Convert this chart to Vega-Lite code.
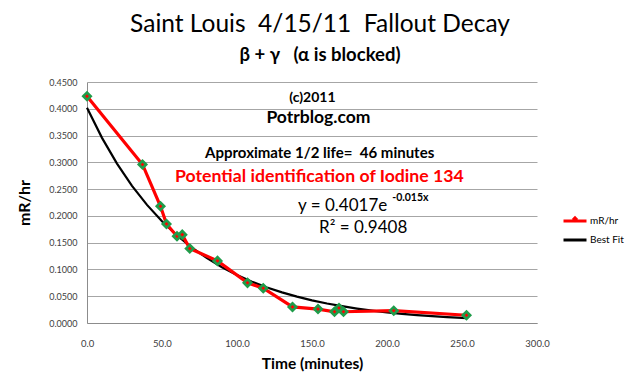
{
  "$schema": "https://vega.github.io/schema/vega-lite/v6.json",
  "width": 450,
  "height": 241,
  "autosize": {"type": "none"},
  "padding": {"left": 87, "top": 82, "right": 103, "bottom": 68},
  "background": "white",
  "config": {
    "view": {"stroke": null},
    "font": "Lato"
  },
  "title": {
    "text": "Saint Louis \u00a04/15/11 \u00a0Fallout Decay",
    "subtitle": "β + γ \u00a0\u00a0(α is blocked)",
    "anchor": "middle",
    "dx": 8,
    "font": "Lato",
    "fontSize": 24.5,
    "fontWeight": "normal",
    "color": "black",
    "subtitleFont": "Lato",
    "subtitleFontSize": 18.5,
    "subtitleFontWeight": "bold",
    "subtitleColor": "black",
    "subtitlePadding": 8,
    "offset": 13
  },
  "resolve": {"axis": {"x": "independent", "y": "independent"}},
  "layer": [
    {
      "data": {
        "values": [
          {"series": "mR/hr", "time": 0, "rate": 0.4235},
          {"series": "mR/hr", "time": 37, "rate": 0.296},
          {"series": "mR/hr", "time": 49, "rate": 0.218},
          {"series": "mR/hr", "time": 53, "rate": 0.185},
          {"series": "mR/hr", "time": 60, "rate": 0.162},
          {"series": "mR/hr", "time": 63.5, "rate": 0.165},
          {"series": "mR/hr", "time": 68.5, "rate": 0.139},
          {"series": "mR/hr", "time": 87, "rate": 0.116},
          {"series": "mR/hr", "time": 107, "rate": 0.075},
          {"series": "mR/hr", "time": 117.5, "rate": 0.065},
          {"series": "mR/hr", "time": 137, "rate": 0.030},
          {"series": "mR/hr", "time": 154, "rate": 0.026},
          {"series": "mR/hr", "time": 165, "rate": 0.021},
          {"series": "mR/hr", "time": 168, "rate": 0.028},
          {"series": "mR/hr", "time": 171, "rate": 0.021},
          {"series": "mR/hr", "time": 204.5, "rate": 0.023},
          {"series": "mR/hr", "time": 253, "rate": 0.0145},
          {"series": "Best Fit", "time": 0, "rate": 0.4017},
          {"series": "Best Fit", "time": 10, "rate": 0.3457},
          {"series": "Best Fit", "time": 20, "rate": 0.2976},
          {"series": "Best Fit", "time": 30, "rate": 0.2561},
          {"series": "Best Fit", "time": 40, "rate": 0.2205},
          {"series": "Best Fit", "time": 50, "rate": 0.1898},
          {"series": "Best Fit", "time": 60, "rate": 0.1633},
          {"series": "Best Fit", "time": 70, "rate": 0.1406},
          {"series": "Best Fit", "time": 80, "rate": 0.1210},
          {"series": "Best Fit", "time": 90, "rate": 0.1041},
          {"series": "Best Fit", "time": 100, "rate": 0.0896},
          {"series": "Best Fit", "time": 110, "rate": 0.0771},
          {"series": "Best Fit", "time": 120, "rate": 0.0664},
          {"series": "Best Fit", "time": 130, "rate": 0.0572},
          {"series": "Best Fit", "time": 140, "rate": 0.0492},
          {"series": "Best Fit", "time": 150, "rate": 0.0423},
          {"series": "Best Fit", "time": 160, "rate": 0.0364},
          {"series": "Best Fit", "time": 170, "rate": 0.0314},
          {"series": "Best Fit", "time": 180, "rate": 0.0270},
          {"series": "Best Fit", "time": 190, "rate": 0.0232},
          {"series": "Best Fit", "time": 200, "rate": 0.0200},
          {"series": "Best Fit", "time": 210, "rate": 0.0172},
          {"series": "Best Fit", "time": 220, "rate": 0.0148},
          {"series": "Best Fit", "time": 230, "rate": 0.0128},
          {"series": "Best Fit", "time": 240, "rate": 0.0110},
          {"series": "Best Fit", "time": 250, "rate": 0.0094},
          {"series": "Best Fit", "time": 253, "rate": 0.0090}
        ]
      },
      "encoding": {
        "x": {
          "field": "time", "type": "quantitative",
          "scale": {"domain": [0, 300], "nice": false},
          "axis": {
            "values": [0, 50, 100, 150, 200, 250, 300],
            "format": ".1f",
            "title": "Time (minutes)",
            "titleFont": "Lato", "titleFontSize": 15.5, "titleFontWeight": "bold", "titleColor": "black",
            "titlePadding": 9,
            "labelFont": "Lato", "labelFontSize": 9.5, "labelColor": "#404040",
            "labelPadding": 15,
            "labelFlush": false,
            "labelOverlap": false,
            "ticks": false,
            "grid": false,
            "domainColor": "#8c8c8c"
          }
        },
        "y": {
          "field": "rate", "type": "quantitative",
          "scale": {"domain": [0, 0.45], "nice": false},
          "axis": {
            "values": [0, 0.05, 0.1, 0.15, 0.2, 0.25, 0.3, 0.35, 0.4, 0.45],
            "format": ".4f",
            "title": "mR/hr",
            "titleFont": "Lato", "titleFontSize": 16, "titleFontWeight": "bold", "titleColor": "black",
            "titlePadding": 16,
            "labelFont": "Lato", "labelFontSize": 9, "labelColor": "#404040",
            "labelPadding": 10,
            "labelFlush": false,
            "labelOverlap": false,
            "ticks": false,
            "gridColor": "#a6a6a6",
            "domainColor": "#8c8c8c"
          }
        }
      },
      "layer": [
        {
          "transform": [{"filter": "datum.series === 'Best Fit'"}],
          "mark": {"type": "line", "strokeWidth": 2.2},
          "encoding": {
            "color": {
              "field": "series", "type": "nominal",
              "scale": {"domain": ["mR/hr", "Best Fit"], "range": ["#ff0000", "#000000"]},
              "legend": {
                "title": null, "orient": "none", "legendX": 475, "legendY": 126,
                "symbolType": "stroke", "symbolSize": 529, "symbolStrokeWidth": 3,
                "labelFont": "Lato", "labelFontSize": 10, "labelColor": "black",
                "labelOffset": 2, "rowPadding": 0, "padding": 0
              }
            }
          }
        },
        {
          "transform": [{"filter": "datum.series === 'mR/hr'"}],
          "mark": {"type": "line", "strokeWidth": 3.2},
          "encoding": {
            "color": {"field": "series", "type": "nominal"}
          }
        },
        {
          "transform": [{"filter": "datum.series === 'mR/hr'"}],
          "mark": {"type": "point", "shape": "diamond", "filled": true, "fill": "#ff0000", "stroke": "#1f9c4a", "strokeWidth": 2.6, "size": 55, "opacity": 1},
          "encoding": {
            "shape": {
              "field": "series", "type": "nominal",
              "scale": {"domain": ["mR/hr"], "range": ["diamond"]},
              "legend": {
                "title": null, "orient": "none", "legendX": 483, "legendY": 132,
                "symbolSize": 40, "symbolFillColor": "#ff0000", "symbolStrokeColor": "#1f9c4a", "symbolStrokeWidth": 2.5,
                "labelFontSize": 10, "labelExpr": "''", "padding": 0
              }
            }
          }
        }
      ]
    },
    {
      "data": {"values": [{}]},
      "mark": {"type": "text", "text": "(c)2011", "font": "Lato", "fontWeight": "bold", "fontSize": 14, "align": "center", "baseline": "middle", "color": "black"},
      "encoding": {"x": {"datum": 150.3, "type": "quantitative", "axis": null}, "y": {"datum": 0.4195, "type": "quantitative", "axis": null}}
    },
    {
      "data": {"values": [{}]},
      "mark": {"type": "text", "text": "Potrblog.com", "font": "Lato", "fontWeight": "bold", "fontSize": 17.5, "align": "center", "baseline": "middle", "color": "black"},
      "encoding": {"x": {"datum": 154.3, "type": "quantitative", "axis": null}, "y": {"datum": 0.382, "type": "quantitative", "axis": null}}
    },
    {
      "data": {"values": [{}]},
      "mark": {"type": "text", "text": "Approximate 1/2 life= \u00a046 minutes", "font": "Lato", "fontWeight": "bold", "fontSize": 15, "align": "left", "baseline": "middle", "color": "black"},
      "encoding": {"x": {"datum": 78.7, "type": "quantitative", "axis": null}, "y": {"datum": 0.318, "type": "quantitative", "axis": null}}
    },
    {
      "data": {"values": [{}]},
      "mark": {"type": "text", "text": "Potential identification of Iodine 134", "font": "Lato", "fontWeight": "bold", "fontSize": 17.7, "align": "left", "baseline": "middle", "color": "#ff0000"},
      "encoding": {"x": {"datum": 58.7, "type": "quantitative", "axis": null}, "y": {"datum": 0.273, "type": "quantitative", "axis": null}}
    },
    {
      "data": {"values": [{}]},
      "mark": {"type": "text", "text": "y = 0.4017e", "font": "Lato", "fontSize": 17, "align": "left", "baseline": "middle", "color": "black"},
      "encoding": {"x": {"datum": 140.7, "type": "quantitative", "axis": null}, "y": {"datum": 0.219, "type": "quantitative", "axis": null}}
    },
    {
      "data": {"values": [{}]},
      "mark": {"type": "text", "text": "-0.015x", "font": "Lato", "fontWeight": "bold", "fontSize": 10.5, "align": "left", "baseline": "middle", "color": "black"},
      "encoding": {"x": {"datum": 203.5, "type": "quantitative", "axis": null}, "y": {"datum": 0.2335, "type": "quantitative", "axis": null}}
    },
    {
      "data": {"values": [{}]},
      "mark": {"type": "text", "text": "R² = 0.9408", "font": "Lato", "fontSize": 17, "align": "left", "baseline": "middle", "color": "black"},
      "encoding": {"x": {"datum": 154.7, "type": "quantitative", "axis": null}, "y": {"datum": 0.178, "type": "quantitative", "axis": null}}
    }
  ]
}
